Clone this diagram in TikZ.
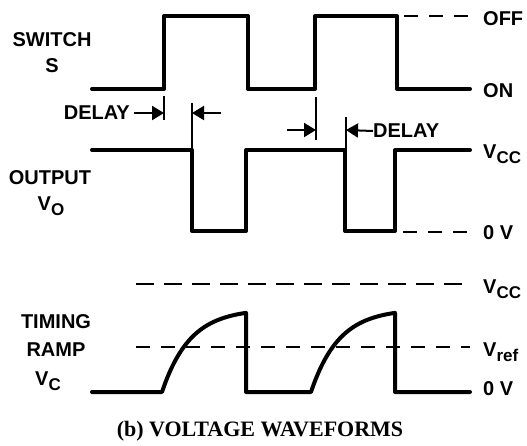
\documentclass[tikz,border=0pt]{standalone}
\usepackage{fontspec}
\setmainfont{Liberation Serif}
\setsansfont{Liberation Sans}
\usetikzlibrary{arrows.meta}
\newcommand\lsub[1]{\raisebox{-0.45ex}{\fontsize{17}{17}\selectfont #1}}
\begin{document}
\begin{tikzpicture}[x=1pt,y=-1pt,
  wave/.style={line width=4pt,line join=round,line cap=round},
  dashline/.style={line width=2.4pt,dash pattern=on 18pt off 10pt},
  shortdash/.style={line width=2.4pt,dash pattern=on 14pt off 11pt},
  guide/.style={line width=2pt},
  delayarrow/.style={line width=2pt,-{Triangle[length=12pt,width=14pt]}},
  lbl/.style={font=\sffamily\bfseries\fontsize{20}{20}\selectfont,inner sep=0pt},
  rlbl/.style={lbl,anchor=west},
  captext/.style={font=\rmfamily\bfseries\fontsize{22}{22}\selectfont,inner sep=0pt}]
\useasboundingbox (0,0) rectangle (527,445);
\fill[white] (0,0) rectangle (527,445);

% switch waveform
\draw[wave] (92,89) -- (164,89) -- (164,16) -- (248,16) -- (248,89) -- (315,89)
  -- (315,16) -- (397,16) -- (397,89) -- (470,89);
\draw[shortdash] (404,16) -- (472,16);

% output waveform
\draw[wave] (92,150) -- (192,150) -- (192,231) -- (246,231) -- (246,150) -- (345,150)
  -- (345,231) -- (395,231) -- (395,150) -- (470,150);
\draw[shortdash] (403,232) -- (468,232);

% timing ramp
\draw[dashline] (136,284) -- (470,284);
\draw[shortdash] (136,347) -- (470,347);
\draw[wave] (92,392) -- (162,392)
  -- plot[domain=0:84,samples=50] ({162+\x},{392-83.3*(1-exp(-\x/28))})
  -- (246,392) -- (311,392)
  -- plot[domain=0:84,samples=50] ({311+\x},{392-83.3*(1-exp(-\x/28))})
  -- (395,392) -- (470,392);

% delay markers
\coordinate (d1a) at (164,96);
\coordinate (d1b) at (164,120);
\coordinate (d2a) at (192,103);
\coordinate (d2b) at (192,150);
\coordinate (d3a) at (316,97);
\coordinate (d3b) at (316,140);
\coordinate (d4a) at (346,117);
\coordinate (d4b) at (346,150);
\draw[guide] (d1a) -- (d1b);
\draw[guide] (d2a) -- (d2b);
\draw[guide] (d3a) -- (d3b);
\draw[guide] (d4a) -- (d4b);

\node[lbl,anchor=east] (delayL) at (130,113) {DELAY};
\coordinate (a1) at (164,113);
\draw[delayarrow] (delayL.east) ++(4,0) coordinate (a1s) -- (a1);
\coordinate (a2s) at (221,113);
\coordinate (a2) at (192,113);
\draw[delayarrow] (a2s) -- (a2);

\node[lbl,anchor=west] (delayR) at (373,131) {DELAY};
\coordinate (a3s) at (287,130);
\coordinate (a3) at (316,130);
\draw[delayarrow] (a3s) -- (a3);
\coordinate (a4) at (346,130);
\draw[delayarrow] (delayR.west) -- (a4);

% left labels
\node[lbl] (sw) at (52,40) {SWITCH};
\node[lbl] (s) at (52,66) {S};
\node[lbl] (out) at (50,178) {OUTPUT};
\node[lbl] (vo) at (51,206) {V\lsub{O}};
\node[lbl] (tim) at (56,322) {TIMING};
\node[lbl] (ramp) at (56,350) {RAMP};
\node[lbl] (vc) at (48,381) {V\lsub{C}};

% right labels
\node[rlbl] (off) at (483,19) {OFF};
\node[rlbl] (on) at (483,91) {ON};
\node[rlbl] (vcc1) at (483,154) {V\lsub{CC}};
\node[rlbl] (zv1) at (483,233) {0 V};
\node[rlbl] (vcc2) at (483,289) {V\lsub{CC}};
\node[rlbl] (vref) at (483,352) {V\lsub{ref}};
\node[rlbl] (zv2) at (483,389) {0 V};

% caption
\node[captext] (caption) at (260,431) {(b) VOLTAGE WAVEFORMS};
\end{tikzpicture}
\end{document}
